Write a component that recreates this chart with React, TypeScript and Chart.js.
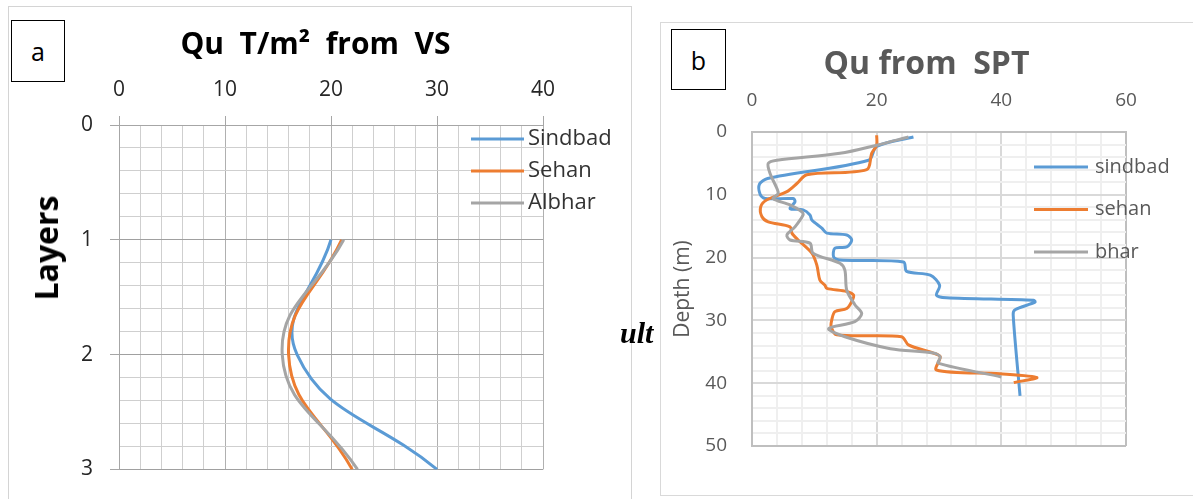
import React, { useEffect, useRef } from 'react';
import { Chart, registerables } from 'chart.js';

Chart.register(...registerables);

// ---------- Chart (a): Qu T/m² from VS ----------
const vsLayers = [1, 2, 3];
const vsSindbad = [20, 16.8, 30];
const vsSehan = [21, 16, 22];
const vsAlbhar = [21.2, 15.4, 22.5];
const vsSeriesNames = ['Sindbad', 'Sehan', 'Albhar'];

// ---------- Chart (b): Qu from SPT ----------
const sptSeriesNames = ['sindbad', 'sehan', 'bhar'];
const sptSindbadQu = [25.9, 20, 18.7, 2.5, 1.2, 1.3, 2.1, 6.6, 6.9, 6.1, 8.2, 9.3, 9.6, 11.2, 12, 15.2, 16, 15.2, 13.3, 13.1, 14.1, 24.3, 24.8, 28.6, 30.1, 29.6, 31.2, 45.2, 45.4, 42.2, 41.9, 43];
const sptSindbadDepth = [0.8, 2.3, 4.5, 7.4, 8.3, 9.9, 10.6, 10.6, 11.1, 12.2, 12.4, 13.2, 14, 15.3, 16.1, 16.4, 17.2, 18.3, 18.5, 19.9, 20.4, 20.7, 22.2, 22.8, 24.4, 26, 26.4, 26.8, 27.1, 28.3, 29.1, 42];
const sptSehanQu = [20, 20, 19.2, 18.4, 8.8, 7.2, 5.6, 2.4, 1.4, 1.6, 2.6, 6.1, 6.4, 7.4, 9.6, 10.4, 10.9, 11.7, 12, 15.2, 16.3, 16, 15.2, 13.3, 12.8, 12.7, 13.6, 24, 25.1, 29.1, 30.2, 29.6, 39.8, 45.7, 42];
const sptSehanDepth = [0.5, 2.1, 3.4, 6.0, 6.8, 8.2, 9.5, 10.8, 11.9, 13.5, 14.3, 15.1, 16.1, 17.2, 19.3, 21.2, 23.6, 24.4, 24.9, 25.4, 26, 27, 28.1, 28.6, 29.9, 31, 32.3, 32.6, 33.9, 35.2, 35.8, 37.9, 38.5, 39.1, 39.9];
const sptBharQu = [25.1, 20, 14.1, 4.0, 2.6, 2.9, 4.0, 4.2, 3.4, 6.1, 8.0, 8.2, 6.9, 5.6, 6.1, 9.3, 9.8, 14.1, 14.9, 15.2, 16.5, 17.6, 16.5, 12.3, 14.9, 22.2, 29.1, 30.2, 29.9, 40];
const sptBharDepth = [0.8, 2.1, 3.4, 4.5, 5.0, 6.6, 9.0, 9.8, 10.6, 11.6, 12.7, 13.2, 15.1, 16.4, 17.2, 17.7, 19.3, 20.9, 22, 25.2, 27.5, 28.9, 30.2, 31.3, 32.6, 34.5, 35.2, 35.8, 36.8, 39];

const BLUE = '#5b9bd5';
const ORANGE = '#ed7d31';
const GREY = '#a5a5a5';
const FONT = "'Open Sans', 'Liberation Sans', sans-serif";

const toPoints = (xs: number[], ys: number[]) => xs.map((x, i) => ({ x, y: ys[i] }));

// legend drawn inside the plot, like the spreadsheet original
const insideLegend = {
  id: 'insideLegend',
  afterDraw(chart: any, _args: any, opts: any) {
    const { ctx } = chart;
    ctx.save();
    chart.data.datasets.forEach((ds: any, i: number) => {
      const y = opts.y0 + i * opts.dy;
      ctx.strokeStyle = ds.borderColor;
      ctx.lineWidth = opts.lineWidth;
      ctx.lineCap = 'butt';
      ctx.beginPath();
      ctx.moveTo(opts.x0, y);
      ctx.lineTo(opts.x1, y);
      ctx.stroke();
      ctx.fillStyle = opts.color;
      ctx.font = opts.font;
      ctx.textAlign = 'left';
      ctx.textBaseline = 'middle';
      ctx.fillText(ds.label, opts.tx, y);
    });
    ctx.restore();
  },
};

function configA(): any {
  const tickColor = '#262626';
  return {
    type: 'line',
    data: {
      datasets: [
        { label: vsSeriesNames[0], data: toPoints(vsSindbad, vsLayers), borderColor: BLUE, order: 3 },
        { label: vsSeriesNames[1], data: toPoints(vsSehan, vsLayers), borderColor: ORANGE, order: 2 },
        { label: vsSeriesNames[2], data: toPoints(vsAlbhar, vsLayers), borderColor: GREY, order: 1 },
      ].map((d) => ({ ...d, borderWidth: 3, pointRadius: 0, tension: 0.45, fill: false })),
    },
    plugins: [insideLegend],
    options: {
      responsive: false,
      animation: false,
      events: [],
      layout: { padding: { left: 0, right: 0, top: 0, bottom: 26 } },
      plugins: {
        legend: { display: false },
        tooltip: { enabled: false },
        title: {
          display: true,
          text: 'Qu  T/m²  from  VS',
          color: '#000',
          font: { family: FONT, size: 30, weight: 'bold' },
          padding: { top: 27, bottom: 0 },
        },
        insideLegend: { x0: 471, x1: 524, tx: 528, y0: 139, dy: 32, lineWidth: 3, color: '#333', font: `22px ${FONT}` },
      },
      scales: {
        x: {
          type: 'linear',
          position: 'top',
          min: 0,
          max: 40,
          ticks: {
            stepSize: 2,
            autoSkip: false,
            maxRotation: 0,
            padding: 13,
            color: tickColor,
            font: { family: FONT, size: 21 },
            callback: (v: number) => (v % 10 === 0 ? String(v) : ''),
          },
          grid: {
            lineWidth: 1,
            tickLength: 9,
            color: (c: any) => (c.tick && c.tick.value % 10 === 0 ? '#b0b0b0' : '#cfcfcf'),
            tickColor: (c: any) => (c.tick && c.tick.value % 10 === 0 ? '#a6a6a6' : 'rgba(0,0,0,0)'),
          },
          border: { color: '#a6a6a6', width: 1 },
          afterFit: (s: any) => { s.height = 125 - 27 - 36; },
        },
        y: {
          type: 'linear',
          position: 'left',
          reverse: true,
          min: 0,
          max: 3,
          ticks: {
            stepSize: 0.2,
            autoSkip: false,
            padding: 17,
            color: tickColor,
            font: { family: FONT, size: 21 },
            callback: (v: number) => (Number.isInteger(v) ? String(v) : ''),
          },
          grid: {
            lineWidth: 1,
            tickLength: 9,
            color: (c: any) => (c.tick && Number.isInteger(c.tick.value) ? '#a0a0a0' : '#cfcfcf'),
            tickColor: (c: any) => (c.tick && Number.isInteger(c.tick.value) ? '#a6a6a6' : 'rgba(0,0,0,0)'),
          },
          border: { color: '#a6a6a6', width: 1 },
          afterFit: (s: any) => { s.width = 119; },
        },
        yRight: {
          type: 'linear',
          position: 'right',
          display: true,
          grid: { display: false },
          border: { display: false },
          ticks: { display: false },
          afterFit: (s: any) => { s.width = 88; },
        },
      },
    },
  };
}

function configB(): any {
  const txt = '#595959';
  const edge = '#bfbfbf';
  return {
    type: 'line',
    data: {
      datasets: [
        { label: sptSeriesNames[0], data: toPoints(sptSindbadQu, sptSindbadDepth), borderColor: BLUE, order: 3 },
        { label: sptSeriesNames[1], data: toPoints(sptSehanQu, sptSehanDepth), borderColor: ORANGE, order: 2 },
        { label: sptSeriesNames[2], data: toPoints(sptBharQu, sptBharDepth), borderColor: GREY, order: 1 },
      ].map((d) => ({ ...d, borderWidth: 3, pointRadius: 0, tension: 0.3, fill: false })),
    },
    plugins: [insideLegend],
    options: {
      responsive: false,
      animation: false,
      events: [],
      layout: { padding: { left: 0, right: 0, top: 0, bottom: 53 } },
      plugins: {
        legend: { display: false },
        tooltip: { enabled: false },
        title: {
          display: true,
          text: 'Qu from  SPT',
          color: txt,
          font: { family: FONT, size: 32, weight: 'bold' },
          padding: { top: 46, bottom: 0 },
        },
        insideLegend: { x0: 374, x1: 428, tx: 435, y0: 167, dy: 42.5, lineWidth: 3, color: txt, font: `20px ${FONT}` },
      },
      scales: {
        x: {
          type: 'linear',
          position: 'top',
          min: 0,
          max: 60,
          ticks: {
            stepSize: 4,
            autoSkip: false,
            maxRotation: 0,
            padding: 20,
            color: txt,
            font: { family: FONT, size: 19 },
            callback: (v: number) => (v % 20 === 0 ? String(v) : ''),
          },
          grid: {
            lineWidth: 2,
            drawTicks: false,
            color: (c: any) => {
              const v = c.tick ? c.tick.value : 1;
              if (v === 60) return edge;
              return v % 20 === 0 ? '#d9d9d9' : '#efefef';
            },
          },
          border: { color: edge, width: 2 },
          afterFit: (s: any) => { s.height = 132 - 46 - 38.4; },
        },
        y: {
          type: 'linear',
          position: 'left',
          reverse: true,
          min: 0,
          max: 50,
          title: {
            display: true,
            text: 'Depth (m)',
            color: txt,
            font: { family: FONT, size: 21 },
            padding: { top: 10, bottom: 0 },
          },
          ticks: {
            stepSize: 2,
            autoSkip: false,
            padding: 25,
            color: txt,
            font: { family: FONT, size: 19 },
            callback: (v: number) => (v % 10 === 0 ? String(v) : ''),
          },
          grid: {
            lineWidth: 2,
            drawTicks: false,
            color: (c: any) => {
              const v = c.tick ? c.tick.value : 1;
              if (v === 50) return edge;
              return v % 10 === 0 ? '#d9d9d9' : '#efefef';
            },
          },
          border: { color: edge, width: 2 },
          afterFit: (s: any) => { s.width = 92; },
        },
        yRight: {
          type: 'linear',
          position: 'right',
          display: true,
          grid: { display: false },
          border: { display: false },
          ticks: { display: false },
          afterFit: (s: any) => { s.width = 67; },
        },
      },
    },
  };
}

function ChartCanvas({ make, left, top, width, height }: any) {
  const ref = useRef<HTMLCanvasElement>(null);
  useEffect(() => {
    const chart = new Chart(ref.current as HTMLCanvasElement, make());
    return () => chart.destroy();
  }, []);
  return (
    <canvas
      ref={ref}
      width={width}
      height={height}
      style={{ position: 'absolute', left, top, width, height }}
    />
  );
}

export default function App() {
  const boxStyle: React.CSSProperties = {
    position: 'absolute',
    border: '1.5px solid #000',
    boxSizing: 'border-box',
    display: 'flex',
    alignItems: 'center',
    justifyContent: 'center',
    fontFamily: FONT,
    fontSize: 25,
    color: '#000',
    background: '#fff',
  };
  return (
    <div style={{ position: 'fixed', left: 0, top: 0, width: 1193, height: 499, background: '#fff', overflow: 'hidden' }}>
      {/* frames */}
      <div style={{ position: 'absolute', left: 8, top: 6, width: 624, height: 520, border: '1px solid #d4d4d4', boxSizing: 'border-box' }} />
      <div style={{ position: 'absolute', left: 660, top: 22, width: 560, height: 474, border: '1px solid #d9d9d9', boxSizing: 'border-box' }} />

      <ChartCanvas make={configA} left={0} top={0} width={631} height={499} />
      <ChartCanvas make={configB} left={660} top={0} width={533} height={499} />

      <div style={{ ...boxStyle, left: 11, top: 20, width: 54, height: 62 }}>a</div>
      <div style={{ ...boxStyle, left: 671, top: 29, width: 55, height: 61 }}>b</div>

      <div
        style={{
          position: 'absolute',
          left: 46,
          top: 248,
          transform: 'translate(-50%, -50%) rotate(-90deg)',
          whiteSpace: 'nowrap',
          fontFamily: FONT,
          fontWeight: 'bold',
          fontSize: 32,
          lineHeight: 1,
          color: '#000',
        }}
      >
        Layers
      </div>

      <div
        style={{
          position: 'absolute',
          left: 620,
          top: 318,
          fontFamily: "'Liberation Serif', serif",
          fontStyle: 'italic',
          fontWeight: 'bold',
          fontSize: 30,
          lineHeight: 1,
          color: '#000',
        }}
      >
        ult
      </div>
    </div>
  );
}
